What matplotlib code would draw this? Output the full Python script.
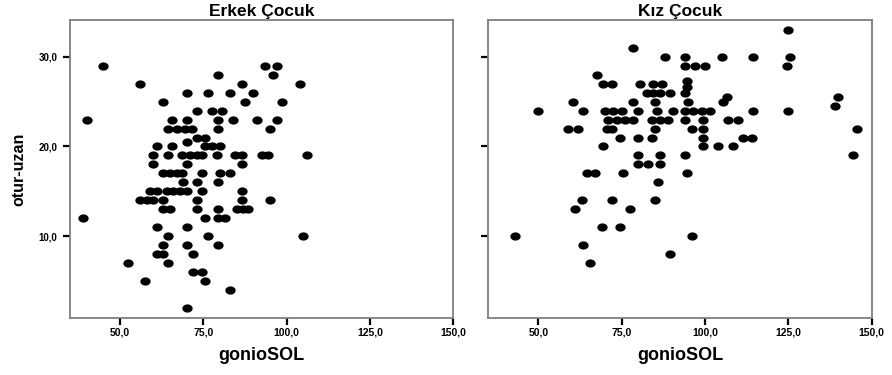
import numpy as np
import matplotlib
matplotlib.use("Agg")
import matplotlib.pyplot as plt
from matplotlib.path import Path

# Erkek Çocuk (gonioSOL, otur-uzan)
erkek_x = [45, 40, 56, 63, 70, 76.5, 83, 86.5, 90, 87.5, 79.5, 93.5, 97, 96, 104, 98.5,
           73, 77.5, 80.5, 65.5, 70, 79.5, 84, 91, 97, 95, 64.5, 67, 69.5, 71.5, 79.5,
           73, 75.5, 70, 75.5, 77.5, 80, 61, 65.5,
           60, 64.5, 68.5, 71, 73, 74.5, 79, 84.5, 86.5, 92.5, 94.5, 106,
           60, 70, 86.5, 63, 65, 67, 68.5, 74.5, 80, 83, 69, 73, 79.5,
           59, 61, 64, 66, 68, 70, 74.5, 86.5,
           56, 58, 60, 63, 73, 86.5, 95,
           63, 65, 73, 79.5, 85, 87, 88.5,
           39, 75.5, 79.5, 81.5,
           61, 70,
           64.5, 76.5, 105,
           63, 70, 79.5,
           61, 63, 72,
           52.5, 64.5,
           72, 74.5,
           57.5, 75.5,
           83,
           70]
erkek_y = [29, 23, 27, 25, 26, 26, 26, 27, 26, 25, 28, 29, 29, 28, 27, 25,
           24, 24, 24, 23, 23, 23, 23, 23, 23, 22, 22, 22, 22, 22, 22,
           21, 21, 20.5, 20, 20, 20, 20, 20,
           19, 19, 19, 19, 19, 19, 19, 19, 19, 19, 19, 19,
           18, 18, 18, 17, 17, 17, 17, 17, 17, 17, 16, 16, 16,
           15, 15, 15, 15, 15, 15, 15, 15,
           14, 14, 14, 14, 14, 14, 14,
           13, 13, 13, 13, 13, 13, 13,
           12, 12, 12, 12,
           11, 11,
           10, 10, 10,
           9, 9, 9,
           8, 8, 8,
           7, 7,
           6, 6,
           5, 5,
           4,
           2]

# Kız Çocuk
kiz_x = [125, 78.5, 88, 94, 105, 114.5, 125.5, 124.5, 94, 97, 100, 67.5,
         69.5, 72, 80.5, 84.5, 87, 94.5, 94.5,
         82.5, 84.5, 86.5, 89.5, 94,
         106.5, 105.5, 140, 139, 60.5, 78.5, 85, 95,
         50, 63.5, 70, 72.5, 75, 80, 85.5, 90.5, 94, 96.5, 99, 101.5, 114.5, 125,
         71, 73.5, 76, 78.5, 84, 86.5, 89, 94, 99.5, 107, 110,
         59, 62, 70.5, 72, 85, 96, 99.5, 145.5,
         74.5, 80, 84, 99.5, 111.5, 114,
         69.5, 99.5, 104, 108.5,
         80, 86.5, 94, 144.5,
         80, 83, 86.5,
         64.5, 67, 75.5, 94.5,
         86,
         63, 72, 85,
         61, 77.5,
         69, 74.5,
         43, 96,
         63.5,
         89.5,
         65.5]
kiz_y = [33, 31, 30, 30, 30, 30, 30, 29, 29, 29, 29, 28,
         27, 27, 27, 27, 27, 27.3, 26.6,
         26, 26, 26, 26, 26,
         25.5, 25, 25.5, 24.5, 25, 25, 25, 25,
         24, 24, 24, 24, 24, 24, 24, 24, 24, 24, 24, 24, 24, 24,
         23, 23, 23, 23, 23, 23, 23, 23, 23, 23, 23,
         22, 22, 22, 22, 22, 22, 22, 22,
         21, 21, 21, 21, 21, 21,
         20, 20, 20, 20,
         19, 19, 19, 19,
         18, 18, 18,
         17, 17, 17, 17,
         16,
         14, 14, 14,
         13, 13,
         11, 11,
         10, 10,
         9,
         8,
         7]

x_ticks = [50, 75, 100, 125, 150]
x_labels = ["50,0", "75,0", "100,0", "125,0", "150,0"]
y_ticks = [10, 20, 30]
y_labels = ["10,0", "20,0", "30,0"]

plt.rcParams['font.family'] = ['Liberation Sans', 'DejaVu Sans']

# slightly flattened dot, like the original
t = np.linspace(0, 2 * np.pi, 40)
dot = Path(np.column_stack([np.cos(t), 0.8 * np.sin(t)]))

fig = plt.figure(figsize=(8.92, 3.75), dpi=100)
ax1 = fig.add_axes([0.0785, 0.152, 0.4297, 0.795])
ax2 = fig.add_axes([0.5474, 0.152, 0.4297, 0.795])

for ax, xs, ys, titel in [(ax1, erkek_x, erkek_y, "Erkek Çocuk"),
                          (ax2, kiz_x, kiz_y, "Kız Çocuk")]:
    ax.plot(xs, ys, linestyle='none', marker=dot, markersize=7.4,
            color='black', markeredgewidth=0)
    ax.set_xlim(35, 150)
    ax.set_ylim(0.87, 34.12)
    ax.set_xticks(x_ticks)
    ax.set_xticklabels(x_labels, fontsize=7.5, fontweight='bold')
    ax.set_yticks(y_ticks)
    ax.tick_params(length=5, width=1.6, color='black', pad=2)
    for s in ax.spines.values():
        s.set_color('#7f7f7f')
        s.set_linewidth(1.3)
    ax.set_title(titel, fontsize=12.5, fontweight='bold', pad=3)
    ax.set_xlabel("gonioSOL", fontsize=13, fontweight='bold', labelpad=7)

ax1.set_yticklabels(y_labels, fontsize=7, fontweight='bold')
ax1.tick_params(axis='y', pad=4)
ax2.set_yticklabels([])
ax1.set_ylabel("otur-uzan", fontsize=11.5, fontweight='bold', labelpad=9)

fig.savefig("out.png", dpi=100)
